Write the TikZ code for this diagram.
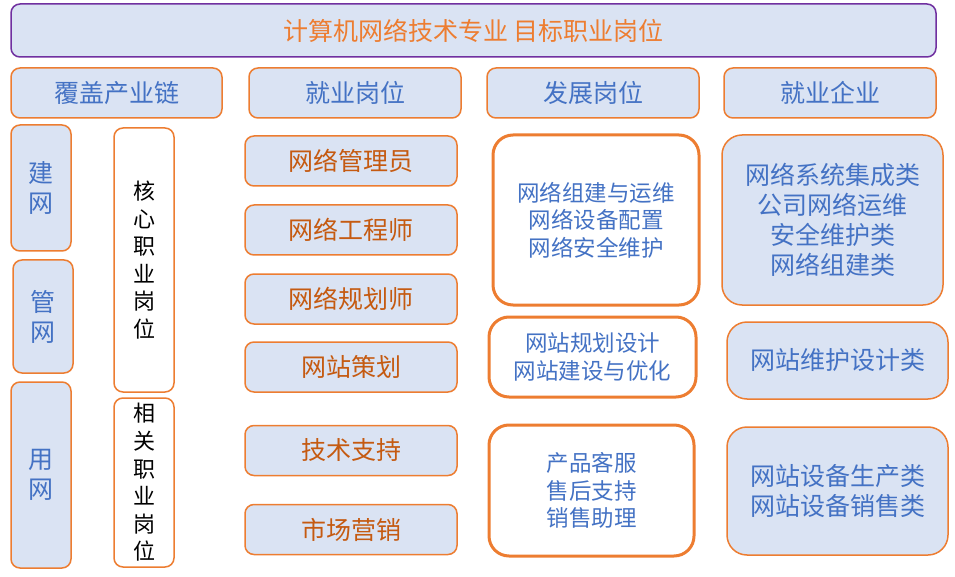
\documentclass[tikz,border=0pt]{standalone}
\usepackage{fontspec}
\newfontfamily\cjk{Noto Sans CJK SC}
\definecolor{boxfill}{HTML}{DAE3F3}
\definecolor{boxline}{HTML}{ED7D31}
\definecolor{txtblue}{HTML}{4472C4}
\definecolor{txtbrown}{HTML}{C55A11}
\definecolor{titleline}{HTML}{7030A0}
\tikzset{
  card/.style={draw=boxline, line width=1.5pt, fill=boxfill, rounded corners=9pt,
    inner sep=0pt, align=center, text=txtblue, font=\cjk\fontsize{25}{30}\selectfont},
  sz/.style 2 args={minimum width=#1pt, minimum height=#2pt},
  jobcard/.style={card, text=txtbrown},
  vcard/.style={card, fill=white, text=black, font=\cjk\fontsize{22}{27.6}\selectfont},
  devcard/.style={card, fill=white, line width=3pt, rounded corners=20pt,
    font=\cjk\fontsize{22.5}{27.5}\selectfont},
  firmcard/.style={card, rounded corners=20pt}
}
\begin{document}
\begin{tikzpicture}[x=1pt, y=-1pt]
  \useasboundingbox (0,0) rectangle (955,577);
  % title
  \node[card, draw=titleline, text=boxline, sz={925}{53}] (title) at (473.5,30.5)
    {计算机网络技术专业 目标职业岗位};
  % column heads
  \node[card, sz={211}{50}] (hchain) at (116.5,93) {覆盖产业链};
  \node[card, sz={212}{50}] (hjob)   at (355,93)   {就业岗位};
  \node[card, sz={212}{50}] (hdev)   at (593,93)   {发展岗位};
  \node[card, sz={212}{50}] (hfirm)  at (830,93)   {就业企业};
  % industry chain
  \node[card, sz={60}{126}] (build) at (41,188)   {建\\网};
  \node[card, sz={60}{113}] (admin) at (43,316.5) {管\\网};
  \node[card, sz={60}{186}] (use)   at (41,475)   {用\\网};
  \node[vcard, sz={60}{264}] (core)  at (144,260)   {核\\心\\职\\业\\岗\\位};
  \node[vcard, sz={60}{169}] (rel)   at (144,482.5) {相\\关\\职\\业\\岗\\位};
  % jobs
  \foreach \y/\lbl [count=\i] in {161/网络管理员, 230/网络工程师, 299/网络规划师,
      367/网站策划, 450.5/技术支持, 529.5/市场营销}
  {
    \node[jobcard, sz={212}{50}] (job\i) at (351,\y) {\lbl};
  }
  % development
  \node[devcard, sz={206}{170}] (dev1) at (596,220)
    {网络组建与运维\\网络设备配置\\网络安全维护};
  \node[devcard, sz={207}{80}] (dev2) at (592.5,357)
    {网站规划设计\\网站建设与优化};
  \node[devcard, sz={205}{131}] (dev3) at (591.5,490.5)
    {产品客服\\售后支持\\销售助理};
  % companies
  \node[firmcard, sz={221}{170}] (firm1) at (832.5,220)
    {网络系统集成类\\公司网络运维\\安全维护类\\网络组建类};
  \node[firmcard, sz={221}{77}] (firm2) at (837.5,360.5) {网站维护设计类};
  \node[firmcard, sz={221}{128}] (firm3) at (837.5,491)
    {网站设备生产类\\网站设备销售类};
\end{tikzpicture}
\end{document}
